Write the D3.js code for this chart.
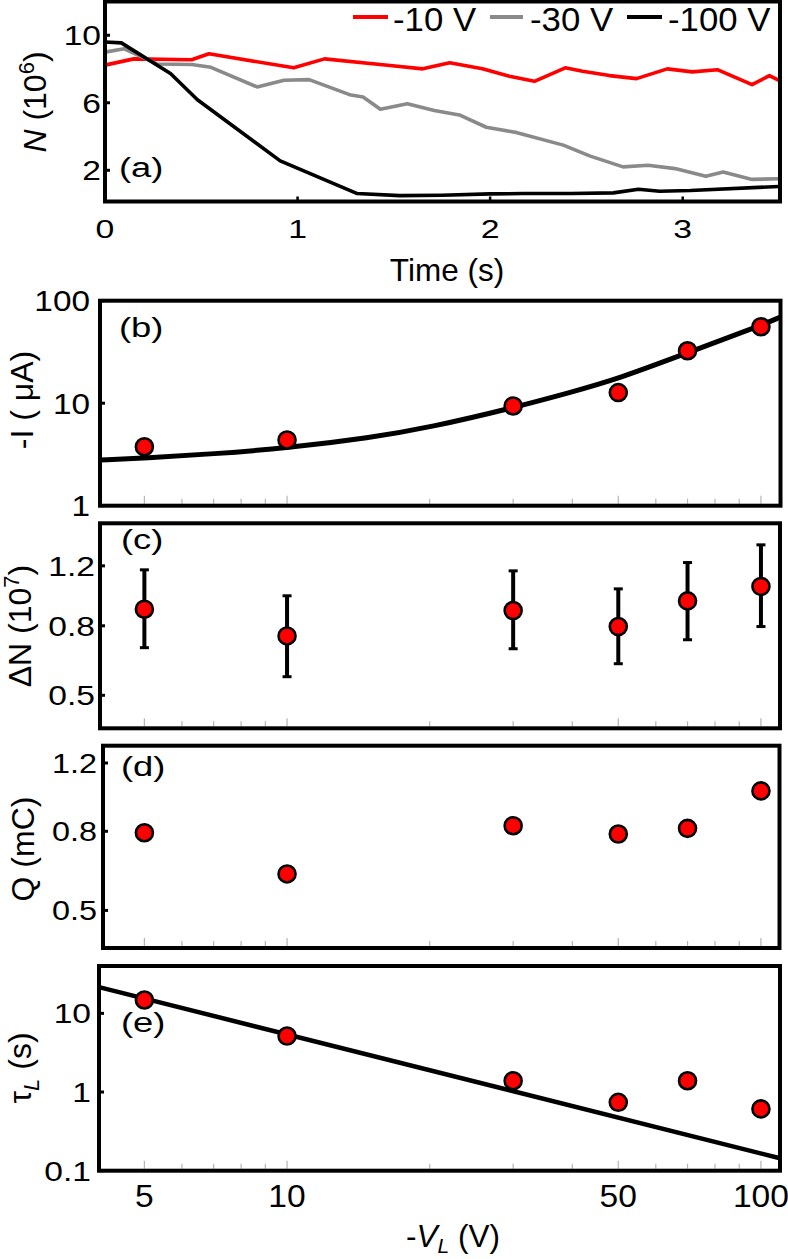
<!DOCTYPE html>
<html><head><meta charset="utf-8">
<script src="https://cdn.jsdelivr.net/npm/d3@7"></script>
<style>
body{margin:0;background:#fff}
svg{display:block}
text{font-family:"Liberation Sans",Arial,Helvetica,sans-serif;fill:#000}
</style>
</head><body>
<svg id="chart" width="788" height="1259"></svg>
<script>
// ---------- DATA ----------
// panel (a): N(t) curves
const timeRed  = [0, 0.15, 0.45, 0.54, 0.98, 1.14, 1.48, 1.65, 1.79, 1.96, 2.10, 2.23, 2.39, 2.48, 2.62, 2.76, 2.92, 3.05, 3.18, 3.36, 3.45, 3.50];
const nRed     = [8.23, 8.6, 8.55, 8.9, 8.07, 8.6, 8.21, 8.01, 8.37, 8.01, 7.57, 7.27, 8.07, 7.87, 7.61, 7.43, 8.01, 7.83, 7.96, 7.07, 7.61, 7.33];
const timeGray = [0, 0.10, 0.27, 0.45, 0.55, 0.79, 0.93, 1.06, 1.27, 1.34, 1.43, 1.57, 1.71, 1.84, 1.98, 2.14, 2.38, 2.52, 2.69, 2.82, 2.96, 3.12, 3.21, 3.36, 3.50];
const nGray    = [9.0, 9.2, 8.3, 8.27, 8.1, 6.94, 7.33, 7.37, 6.48, 6.34, 5.62, 5.94, 5.54, 5.28, 4.55, 4.23, 3.49, 2.84, 2.20, 2.30, 2.10, 1.64, 1.90, 1.46, 1.50];
const timeBlack= [0, 0.085, 0.34, 0.48, 0.91, 1.31, 1.53, 1.75, 2.0, 2.17, 2.42, 2.64, 2.77, 2.88, 3.04, 3.50];
const nBlack   = [9.6, 9.55, 7.73, 6.18, 2.56, 0.62, 0.5, 0.52, 0.6, 0.62, 0.62, 0.66, 0.88, 0.76, 0.8, 1.04];
const legendLabels = ["-10 V", "-30 V", "-100 V"];
const timeTicks = [0, 1, 2, 3];
const nTicks = [2, 6, 10];

// panels (b)-(e): vs -V_L
const voltages = [5, 10, 30, 50, 70, 100];
const currentI = [3.76, 4.38, 9.4, 12.7, 32.5, 55.7];
const fitV     = [4.03, 5, 7, 10, 15, 20, 30, 40, 50, 70, 100, 109.7];
const fitI     = [2.79, 2.92, 3.2, 3.65, 4.6, 5.8, 9.0, 12.9, 17.3, 31.0, 57.5, 69];
const deltaN   = [0.895, 0.747, 0.887, 0.796, 0.947, 1.044];
const deltaNLo = [0.69, 0.567, 0.685, 0.619, 0.728, 0.796];
const deltaNHi = [1.168, 0.98, 1.16, 1.027, 1.227, 1.383];
const charge   = [0.793, 0.621, 0.827, 0.787, 0.814, 1.017];
const tau      = [14.8, 5.15, 1.39, 0.74, 1.39, 0.61];
const tauFitV  = [4.03, 109.7];
const tauFitT  = [21.4, 0.144];
const vTicks   = [5, 10, 50, 100];
const vMinor   = [6, 7, 8, 9, 20, 30, 40, 60, 70, 80, 90];
const iTicks   = [1, 10, 100];
const dnTicks  = [0.5, 0.8, 1.2];
const qTicks   = [0.5, 0.8, 1.2];
const tauTicks = [0.1, 1, 10];

// ---------- DRAW ----------
const svg = d3.select("#chart");
const RED = "#ff0000", GRAY = "#8a8a8a";

function stretchText(g, str, x, y, fs, sx, anchor) {
  return g.append("text").attr("transform", `translate(${x},${y}) scale(${sx},1)`)
    .attr("text-anchor", anchor).attr("font-size", fs).text(str);
}
function yTicks(g, scale, vals, x0, endX, fs, sx) {
  vals.forEach(v => {
    g.append("line").attr("x1", x0).attr("x2", x0 + 5).attr("y1", scale(v)).attr("y2", scale(v))
      .attr("stroke", "#000").attr("stroke-width", 3);
    stretchText(g, String(v), endX, scale(v), fs, sx, "end").attr("dy", "0.36em");
  });
}
function box(g, x0, y0, x1, y1) {
  g.append("rect").attr("x", x0).attr("y", y0).attr("width", x1 - x0).attr("height", y1 - y0)
    .attr("fill", "none").attr("stroke", "#000").attr("stroke-width", 4);
}
function grayXTicks(g, xs, yb) {
  vTicks.forEach(v => g.append("line").attr("x1", xs(v)).attr("x2", xs(v)).attr("y1", yb).attr("y2", yb - 8)
    .attr("stroke", "#b5b5b5").attr("stroke-width", 1.2));
  vMinor.forEach(v => g.append("line").attr("x1", xs(v)).attr("x2", xs(v)).attr("y1", yb).attr("y2", yb - 5)
    .attr("stroke", "#b5b5b5").attr("stroke-width", 1.2));
}
function dots(g, xs, ys, vals) {
  g.selectAll(null).data(voltages).enter().append("circle")
    .attr("cx", d => xs(d)).attr("cy", (d, i) => ys(vals[i])).attr("r", 8.5)
    .attr("fill", RED).attr("stroke", "#000").attr("stroke-width", 2.6);
}
function rotTitle(g, x, y) {
  return g.append("text").attr("transform", `translate(${x},${y}) rotate(-90)`)
    .attr("text-anchor", "middle").attr("font-size", 32);
}

const xV = d3.scaleLog().domain([4.03, 109.7]).range([100, 780]);

// ----- Panel (a) -----
{
  const g = svg.append("g");
  const x0 = 105, x1 = 780, y0 = 1.5, y1 = 201.5;
  const xs = d3.scaleLinear().domain([0, 3.5]).range([x0, 779]);
  const ys = d3.scaleLinear().domain([0.15, 12]).range([y1, y0]);
  const line = d3.line().x(d => xs(d[0])).y(d => ys(d[1]));
  const series = [[timeRed, nRed, RED], [timeGray, nGray, GRAY], [timeBlack, nBlack, "#000"]];
  series.forEach(([t, n, c]) => {
    g.append("path").datum(t.map((d, i) => [d, n[i]])).attr("d", line)
      .attr("fill", "none").attr("stroke", c).attr("stroke-width", 3.6).attr("stroke-linejoin", "round");
  });
  timeTicks.slice(1).forEach(v => g.append("line").attr("x1", xs(v)).attr("x2", xs(v)).attr("y1", y1).attr("y2", y1 - 5)
    .attr("stroke", "#000").attr("stroke-width", 2.5));
  box(g, x0, y0, x1, y1);
  yTicks(g, ys, nTicks, x0, 101, 28, 1.2);
  timeTicks.forEach(v => stretchText(g, String(v), xs(v), 237.5, 26, 1.3, "middle"));
  g.append("text").attr("x", 447).attr("y", 281).attr("text-anchor", "middle").attr("font-size", 31.5).text("Time (s)");
  const t = rotTitle(g, 46, 102);
  t.append("tspan").attr("font-style", "italic").text("N");
  t.append("tspan").text(" (10");
  t.append("tspan").attr("font-size", 22).attr("dy", -12).text("6");
  t.append("tspan").attr("dy", 12).text(")");
  stretchText(g, "(a)", 119, 177, 28, 1.3, "start");
  const legX = [[353, 388, 393], [490, 523, 530], [627, 662, 668]];
  const cols = [RED, GRAY, "#000"];
  legendLabels.forEach((lab, i) => {
    g.append("line").attr("x1", legX[i][0]).attr("x2", legX[i][1]).attr("y1", 17).attr("y2", 17)
      .attr("stroke", cols[i]).attr("stroke-width", 4);
    stretchText(g, lab, legX[i][2], 31, 32.5, 1.07, "start");
  });
}

// ----- Panel (b) -----
{
  const g = svg.append("g");
  const x0 = 100, x1 = 780.5, y0 = 300.7, y1 = 505.7;
  const ys = d3.scaleLog().domain([1, 100]).range([y1, y0]);
  grayXTicks(g, xV, y1 - 2);
  g.append("path").datum(fitV.map((v, i) => [v, fitI[i]]))
    .attr("d", d3.line().x(d => xV(d[0])).y(d => ys(d[1])).curve(d3.curveBasis))
    .attr("fill", "none").attr("stroke", "#000").attr("stroke-width", 5);
  dots(g, xV, ys, currentI);
  box(g, x0, y0, x1, y1);
  yTicks(g, ys, iTicks, x0, 90, 29, 1.15);
  rotTitle(g, 33, 400).text("-I ( μA)");
  stretchText(g, "(b)", 119, 337, 28, 1.3, "start");
}

// ----- Panel (c) -----
{
  const g = svg.append("g");
  const x0 = 100, x1 = 780, y0 = 523.3, y1 = 728.3;
  const ys = d3.scaleLog().domain([0.4, 1.6]).range([y1, y0]);
  grayXTicks(g, xV, y1 - 2);
  voltages.forEach((v, i) => {
    const cx = xV(v);
    g.append("line").attr("x1", cx).attr("x2", cx).attr("y1", ys(deltaNLo[i])).attr("y2", ys(deltaNHi[i]))
      .attr("stroke", "#000").attr("stroke-width", 4);
    [deltaNLo[i], deltaNHi[i]].forEach(e => g.append("line").attr("x1", cx - 4.5).attr("x2", cx + 4.5)
      .attr("y1", ys(e)).attr("y2", ys(e)).attr("stroke", "#000").attr("stroke-width", 3));
  });
  dots(g, xV, ys, deltaN);
  box(g, x0, y0, x1, y1);
  yTicks(g, ys, dnTicks, x0, 95, 28, 1.2);
  const t = rotTitle(g, 31, 626);
  t.append("tspan").text("ΔN (10");
  t.append("tspan").attr("font-size", 22).attr("dy", -12).text("7");
  t.append("tspan").attr("dy", 12).text(")");
  stretchText(g, "(c)", 121, 549, 28, 1.3, "start");
}

// ----- Panel (d) -----
{
  const g = svg.append("g");
  const x0 = 103, x1 = 779.5, y0 = 745.7, y1 = 948;
  const ys = d3.scaleLog().domain([0.4, 1.33]).range([y1, y0]);
  grayXTicks(g, xV, y1 - 2);
  dots(g, xV, ys, charge);
  box(g, x0, y0, x1, y1);
  yTicks(g, ys, qTicks, x0, 97, 27, 1.2);
  rotTitle(g, 34, 849).text("Q (mC)");
  stretchText(g, "(d)", 121, 776, 28, 1.3, "start");
}

// ----- Panel (e) -----
{
  const g = svg.append("g");
  const x0 = 99, x1 = 780, y0 = 966, y1 = 1170.7;
  const ys = d3.scaleLog().domain([0.1, 40]).range([y1, y0]);
  grayXTicks(g, xV, y1 - 2);
  g.append("path").datum(tauFitV.map((v, i) => [v, tauFitT[i]]))
    .attr("d", d3.line().x(d => xV(d[0])).y(d => ys(d[1])))
    .attr("fill", "none").attr("stroke", "#000").attr("stroke-width", 4.5);
  dots(g, xV, ys, tau);
  box(g, x0, y0, x1, y1);
  yTicks(g, ys, tauTicks, x0, 91, 28, 1.2);
  const t = rotTitle(g, 31, 1068);
  t.append("tspan").text("τ");
  t.append("tspan").attr("font-style", "italic").attr("font-size", 22).attr("dy", 8).text("L");
  t.append("tspan").attr("dy", -8).text(" (s)");
  stretchText(g, "(e)", 121, 1032, 28, 1.3, "start");
  vTicks.forEach(v => stretchText(g, String(v), xV(v), 1206.7, 32, 1.05, "middle"));
  const xt = g.append("text").attr("x", 453).attr("y", 1247).attr("text-anchor", "middle").attr("font-size", 31.5);
  xt.append("tspan").text("-");
  xt.append("tspan").attr("font-style", "italic").text("V");
  xt.append("tspan").attr("font-style", "italic").attr("font-size", 21).attr("dy", 6).text("L");
  xt.append("tspan").attr("dy", -6).text(" (V)");
}
</script>
</body></html>
